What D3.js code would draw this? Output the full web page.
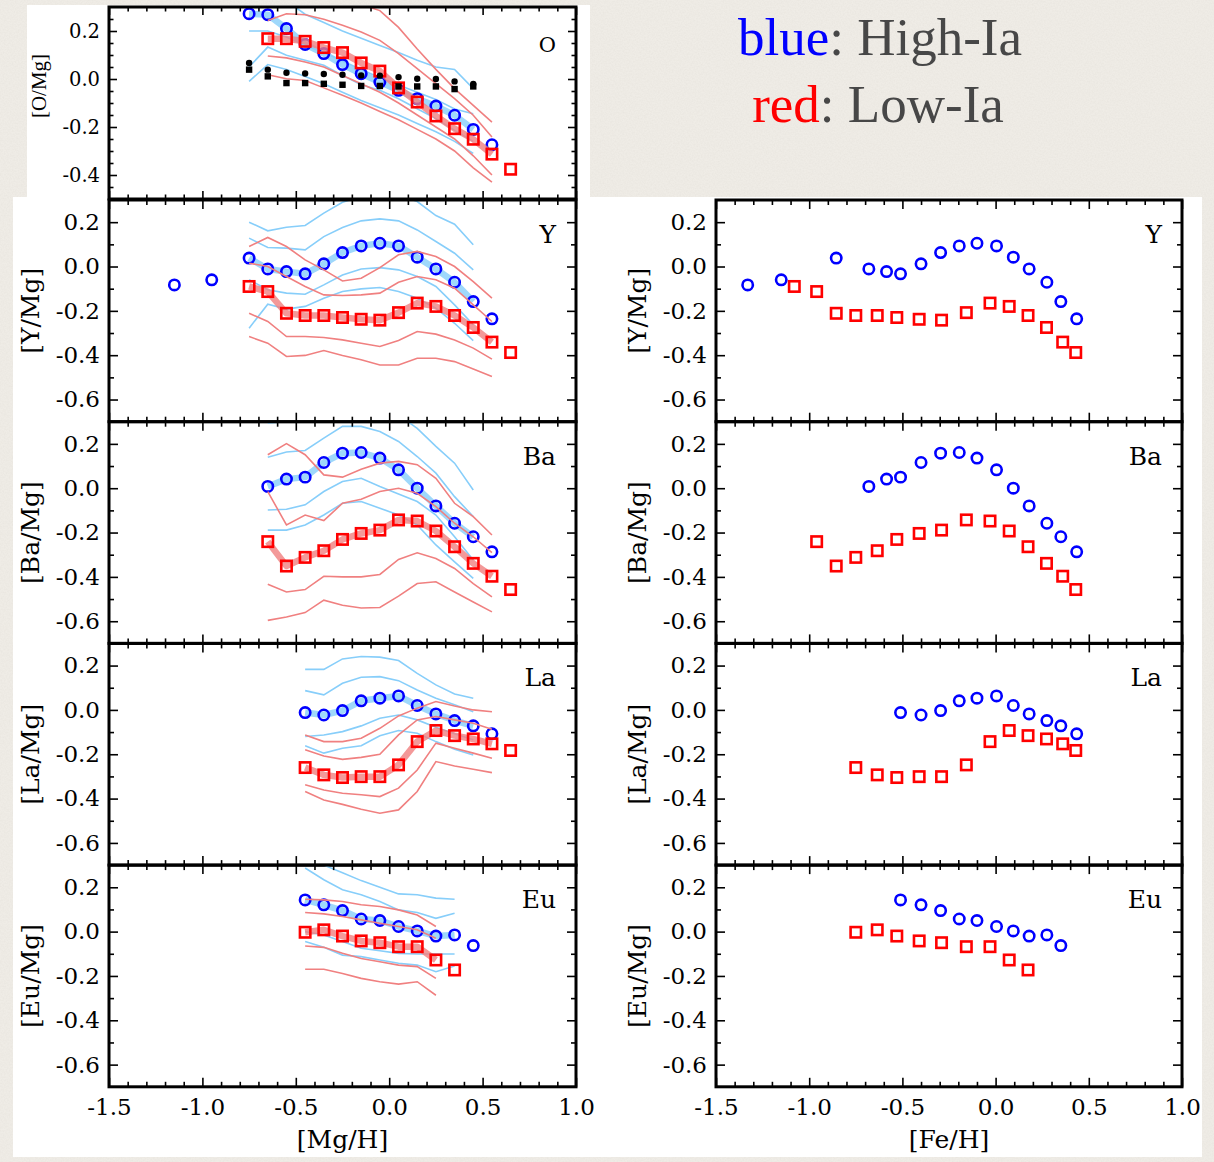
<!DOCTYPE html>
<html>
<head>
<meta charset="utf-8">
<script src="https://cdn.jsdelivr.net/npm/d3@7"></script>
<style>
  html, body { margin: 0; padding: 0; background: #efece6; }
  svg { display: block; }
</style>
</head>
<body>
<svg id="fig" width="1214" height="1162"></svg>
<script>
// ---------------------------------------------------------------
// Binned medians (markers) and percentile tracks (thin lines) of
// [X/Mg] for the High-Ia (blue) and Low-Ia (red) populations.
// Every series is indexed by the [Mg/H] bins below; null = no data.
// ---------------------------------------------------------------
const _ = null;
const mgBins = [-1.15, -0.95, -0.75, -0.65, -0.55, -0.45, -0.35, -0.25, -0.15, -0.05, 0.05, 0.15, 0.25, 0.35, 0.45, 0.55, 0.65];
// median [Fe/H] of each [Mg/H] bin (x positions in the right column)
const feHigh = [-1.33, -1.15, -0.855, -0.68, -0.585, -0.51, -0.40, -0.295, -0.195, -0.10, 0.005, 0.095, 0.18, 0.275, 0.35, 0.435, _];
const feLow  = [_, _, -1.08, -0.96, -0.855, -0.75, -0.635, -0.53, -0.41, -0.29, -0.157, -0.03, 0.073, 0.174, 0.273, 0.36, 0.43];

// ---- O ----
const oHighMed = [_, _, 0.272, 0.268, 0.210, 0.144, 0.106, 0.060, 0.022, -0.013, -0.047, -0.082, -0.113, -0.151, -0.210, -0.274, _];
const oLowMed  = [_, _, _, 0.168, 0.168, 0.157, 0.131, 0.110, 0.067, 0.033, -0.037, -0.096, -0.154, -0.207, -0.251, -0.313, -0.376];
const oDotsA   = [_, _, 0.067, 0.039, 0.026, 0.023, 0.021, 0.018, 0.015, 0.014, 0.008, 0.001, 0.000, -0.010, -0.021, _, _];
const oDotsB   = [_, _, 0.039, 0.011, -0.017, -0.017, -0.020, -0.024, -0.029, -0.029, -0.031, -0.031, -0.031, -0.042, -0.031, _, _];
const oHighP1 = [_, _, 0.40, 0.37, 0.325, 0.27, 0.235, 0.20, 0.17, 0.14, 0.11, 0.078, 0.05, 0.04, -0.04, _, _];
const oHighP2 = [_, _, 0.20, 0.20, 0.175, 0.14, 0.11, 0.075, 0.04, 0.005, -0.025, -0.055, -0.085, -0.125, -0.145, _, _];
const oHighP3 = [_, _, 0.05, 0.133, 0.099, 0.078, 0.057, 0.015, -0.024, -0.047, -0.082, -0.124, -0.165, -0.214, -0.26, _, _];
const oHighP4 = [_, _, -0.01, 0.06, 0.04, 0.01, -0.02, -0.055, -0.09, -0.12, -0.15, -0.185, -0.22, -0.26, -0.31, _, _];
const oLowP1 = [_, _, _, 0.45, 0.42, 0.40, 0.37, 0.34, 0.31, 0.285, 0.215, 0.125, 0.04, -0.04, -0.11, -0.18, _];
const oLowP2 = [_, _, _, 0.244, 0.272, 0.268, 0.249, 0.224, 0.196, 0.161, 0.106, 0.043, -0.019, -0.082, -0.151, -0.242, _];
const oLowP3 = [_, _, _, 0.096, 0.088, 0.071, 0.050, 0.015, -0.020, -0.055, -0.10, -0.15, -0.20, -0.25, -0.32, -0.40, _];
const oLowP4 = [_, _, _, 0.018, 0.001, -0.006, -0.037, -0.068, -0.10, -0.135, -0.17, -0.21, -0.25, -0.30, -0.37, -0.43, _];

// ---- Y ----
const yHighMed = [-0.083, -0.060, 0.038, -0.011, -0.023, -0.033, 0.012, 0.063, 0.093, 0.105, 0.093, 0.042, -0.011, -0.071, -0.158, -0.236, _];
const yLowMed  = [_, _, -0.090, -0.113, -0.211, -0.221, -0.221, -0.230, -0.238, -0.242, -0.208, -0.165, -0.180, -0.221, -0.275, -0.341, -0.388];
const yHighP1 = [_, _, 0.200, 0.161, 0.177, 0.185, 0.241, 0.290, 0.316, 0.330, 0.323, 0.293, 0.230, 0.191, 0.098, _, _];
const yHighP2 = [_, _, 0.128, 0.086, 0.083, 0.075, 0.135, 0.176, 0.206, 0.215, 0.206, 0.165, 0.113, 0.060, -0.015, _, _];
const yHighP3 = [_, _, -0.060, -0.105, -0.120, -0.125, -0.083, -0.038, -0.011, -0.005, -0.015, -0.045, -0.090, -0.173, -0.263, _, _];
const yHighP4 = [_, _, -0.278, -0.170, -0.192, -0.180, -0.143, -0.113, -0.101, -0.095, -0.113, -0.143, -0.188, -0.256, -0.334, _, _];
const yLowP1 = [_, _, 0.090, 0.131, 0.090, 0.030, -0.015, -0.065, -0.053, -0.005, 0.053, 0.068, 0.045, 0.000, -0.068, -0.143, _];
const yLowP2 = [_, _, 0.015, 0.000, -0.045, -0.090, -0.128, -0.131, -0.128, -0.120, -0.071, -0.045, -0.060, -0.098, -0.173, -0.248, _];
const yLowP3 = [_, _, -0.211, -0.248, -0.316, -0.316, -0.320, -0.331, -0.346, -0.361, -0.334, -0.293, -0.305, -0.331, -0.368, -0.418, _];
const yLowP4 = [_, _, -0.316, -0.346, -0.406, -0.401, -0.379, -0.401, -0.421, -0.444, -0.444, -0.414, -0.414, -0.429, -0.462, -0.496, _];

// ---- Ba ----
const baHighMed = [_, _, _, 0.008, 0.041, 0.050, 0.116, 0.158, 0.161, 0.136, 0.083, 0.000, -0.080, -0.158, -0.219, -0.287, _];
const baLowMed  = [_, _, _, -0.241, -0.351, -0.312, -0.282, -0.231, -0.204, -0.189, -0.143, -0.148, -0.193, -0.264, -0.339, -0.397, -0.457];
const baHighP1 = [_, _, _, 0.294, 0.300, 0.320, 0.340, 0.360, 0.370, 0.360, 0.330, 0.270, 0.189, 0.113, -0.008, _, _];
const baHighP2 = [_, _, _, 0.140, 0.163, 0.170, 0.226, 0.279, 0.279, 0.256, 0.211, 0.143, 0.068, -0.038, -0.128, _, _];
const baHighP3 = [_, _, _, -0.098, -0.095, -0.075, -0.015, 0.030, 0.045, 0.008, -0.026, -0.060, -0.121, -0.219, -0.324, _, _];
const baHighP4 = [_, _, _, -0.189, -0.189, -0.166, -0.121, -0.068, -0.060, -0.090, -0.121, -0.166, -0.256, -0.332, -0.407, _, _];
const baLowP1 = [_, _, _, 0.151, 0.201, 0.151, 0.060, 0.050, 0.086, 0.113, 0.121, 0.106, 0.045, -0.068, -0.128, -0.211, _];
const baLowP2 = [_, _, _, -0.015, -0.166, -0.121, -0.146, -0.068, -0.050, -0.015, 0.000, -0.023, -0.083, -0.158, -0.219, -0.291, _];
const baLowP3 = [_, _, _, -0.433, -0.468, -0.457, -0.397, -0.400, -0.400, -0.389, -0.321, -0.291, -0.317, -0.362, -0.430, -0.490, _];
const baLowP4 = [_, _, _, -0.596, -0.581, -0.561, -0.505, -0.528, -0.540, -0.538, -0.487, -0.430, -0.422, -0.468, -0.513, -0.558, _];

// ---- La ----
const laHighMed = [_, _, _, _, _, -0.012, -0.023, -0.003, 0.041, 0.053, 0.063, 0.020, -0.018, -0.048, -0.072, -0.108, _];
const laLowMed  = [_, _, _, _, _, -0.260, -0.293, -0.305, -0.301, -0.301, -0.248, -0.143, -0.093, -0.116, -0.131, -0.153, -0.183];
const laHighP1 = [_, _, _, _, _, 0.183, 0.183, 0.230, 0.241, 0.238, 0.223, 0.165, 0.113, 0.072, 0.053, _, _];
const laHighP2 = [_, _, _, _, _, 0.087, 0.068, 0.120, 0.147, 0.150, 0.132, 0.090, 0.053, 0.023, -0.008, _, _];
const laHighP3 = [_, _, _, _, _, -0.120, -0.113, -0.098, -0.072, -0.038, -0.023, -0.045, -0.078, -0.108, -0.135, _, _];
const laHighP4 = [_, _, _, _, _, -0.162, -0.195, -0.173, -0.162, -0.117, -0.093, -0.105, -0.143, -0.177, -0.203, _, _];
const laLowP1 = [_, _, _, _, _, -0.113, -0.143, -0.143, -0.128, -0.083, -0.027, 0.008, 0.038, 0.018, 0.000, -0.008, _];
const laLowP2 = [_, _, _, _, _, -0.180, -0.208, -0.223, -0.214, -0.200, -0.113, -0.045, -0.030, -0.045, -0.060, -0.087, _];
const laLowP3 = [_, _, _, _, _, -0.338, -0.361, -0.376, -0.383, -0.391, -0.353, -0.271, -0.150, -0.173, -0.195, -0.218, _];
const laLowP4 = [_, _, _, _, _, -0.368, -0.406, -0.426, -0.448, -0.466, -0.451, -0.368, -0.233, -0.253, -0.268, -0.283, _];

// ---- Eu ----
const euHighMed = [_, _, _, _, _, 0.143, 0.121, 0.095, 0.057, 0.050, 0.023, 0.003, -0.020, -0.015, -0.063, _, _];
const euLowMed  = [_, _, _, _, _, -0.003, 0.008, -0.020, -0.042, -0.050, -0.068, -0.068, -0.128, -0.173, _, _, _];
const euHighP1 = [_, _, _, _, _, 0.330, 0.300, 0.265, 0.230, 0.200, 0.170, 0.166, 0.151, 0.146, _, _, _];
const euHighP2 = [_, _, _, _, _, 0.287, 0.234, 0.189, 0.166, 0.136, 0.098, 0.086, 0.060, 0.083, _, _, _];
const euHighP3 = [_, _, _, _, _, 0.000, -0.015, -0.045, -0.075, -0.086, -0.098, -0.101, -0.101, -0.101, _, _, _];
const euHighP4 = [_, _, _, _, _, -0.045, -0.071, -0.106, -0.113, -0.128, -0.143, -0.151, -0.181, -0.155, _, _, _];
const euLowP1 = [_, _, _, _, _, 0.146, 0.143, 0.136, 0.121, 0.113, 0.098, 0.075, 0.023, _, _, _, _];
const euLowP2 = [_, _, _, _, _, 0.086, 0.080, 0.068, 0.053, 0.038, 0.023, 0.008, -0.030, _, _, _, _];
const euLowP3 = [_, _, _, _, _, -0.065, -0.071, -0.098, -0.121, -0.136, -0.151, -0.158, -0.211, _, _, _, _];
const euLowP4 = [_, _, _, _, _, -0.170, -0.170, -0.189, -0.211, -0.226, -0.237, -0.226, -0.287, _, _, _, _];

// ---- axes ----
const xTicks = [-1.5, -1.0, -0.5, 0.0, 0.5, 1.0];
const xMinor = [-1.4, -1.3, -1.2, -1.1, -0.9, -0.8, -0.7, -0.6, -0.4, -0.3, -0.2, -0.1, 0.1, 0.2, 0.3, 0.4, 0.6, 0.7, 0.8, 0.9];
const yTicks = [-0.6, -0.4, -0.2, 0.0, 0.2];
const yMinor = [-0.5, -0.3, -0.1, 0.1];
const oTicks = [-0.4, -0.2, 0.0, 0.2];
const oMinor = [-0.45, -0.35, -0.3, -0.25, -0.15, -0.1, -0.05, 0.05, 0.1, 0.15, 0.25];

const elements = ['Y', 'Ba', 'La', 'Eu'];
const highMeds = [yHighMed, baHighMed, laHighMed, euHighMed];
const lowMeds  = [yLowMed, baLowMed, laLowMed, euLowMed];
const highTracks = [
  [yHighP1, yHighP2, yHighP3, yHighP4],
  [baHighP1, baHighP2, baHighP3, baHighP4],
  [laHighP1, laHighP2, laHighP3, laHighP4],
  [euHighP1, euHighP2, euHighP3, euHighP4]
];
const lowTracks = [
  [yLowP1, yLowP2, yLowP3, yLowP4],
  [baLowP1, baLowP2, baLowP3, baLowP4],
  [laLowP1, laLowP2, laLowP3, laLowP4],
  [euLowP1, euLowP2, euLowP3, euLowP4]
];

// ---------------------------------------------------------------
const FONT = '"DejaVu Serif", serif';
const BLUE = '#0000ff', RED = '#ff0000';
const LBLUE = '#87cefa', LRED = '#f08080';

const svg = d3.select('#fig');
const defs = svg.append('defs');

// paper background
const paper = defs.append('filter').attr('id', 'paper')
  .attr('x', 0).attr('y', 0).attr('width', '100%').attr('height', '100%');
paper.append('feTurbulence').attr('type', 'fractalNoise')
  .attr('baseFrequency', 0.65).attr('numOctaves', 3).attr('seed', 7).attr('result', 'n');
paper.append('feColorMatrix').attr('in', 'n').attr('type', 'matrix')
  .attr('values', '0 0 0 0 0.55  0 0 0 0 0.52  0 0 0 0 0.47  0.22 0 0 0 -0.07');
svg.append('rect').attr('width', 1214).attr('height', 1162).attr('fill', '#efece6');
svg.append('rect').attr('width', 1214).attr('height', 1162).attr('filter', 'url(#paper)');

// white sheets behind the panels
svg.append('rect').attr('x', 27).attr('y', 5).attr('width', 563).attr('height', 194).attr('fill', '#fff');
svg.append('rect').attr('x', 13).attr('y', 197).attr('width', 1189).attr('height', 960).attr('fill', '#fff');

let clipN = 0;
const fmt = d => d.toFixed(1);

function addAxis(g, axisGen, transform, major, minor, majorLen, minorLen, labels, fontSize, pad) {
  const gm = g.append('g').attr('transform', transform)
    .call(axisGen().tickValues(minor).tickSize(-minorLen).tickFormat(''));
  const gM = g.append('g').attr('transform', transform)
    .call(axisGen().tickValues(major).tickSize(-majorLen).tickPadding(pad)
      .tickFormat(labels ? fmt : ''));
  [gm, gM].forEach(a => {
    a.select('.domain').remove();
    a.selectAll('line').attr('stroke', '#000').attr('stroke-width', 1.6);
    a.selectAll('text').attr('font-family', FONT).attr('font-size', fontSize).attr('fill', '#000');
  });
}

function makePanel(o) {
  const x = d3.scaleLinear().domain([-1.5, 1.0]).range([o.x0, o.x1]);
  const y = d3.scaleLinear().domain(o.yDomain).range([o.y1, o.y0]);
  const g = svg.append('g');
  const id = 'clip' + (clipN++);
  defs.append('clipPath').attr('id', id).append('rect')
    .attr('x', o.x0).attr('y', o.y0).attr('width', o.x1 - o.x0).attr('height', o.y1 - o.y0);
  const plot = g.append('g').attr('clip-path', `url(#${id})`);
  const axes = g.append('g');
  addAxis(axes, () => d3.axisBottom(x), `translate(0,${o.y1})`, xTicks, xMinor, o.majorLen, o.minorLen, o.xLabels, o.fontSize, 12);
  addAxis(axes, () => d3.axisTop(x), `translate(0,${o.y0})`, xTicks, xMinor, o.majorLen, o.minorLen, false, o.fontSize, 0);
  addAxis(axes, () => d3.axisLeft(y), `translate(${o.x0},0)`, o.yTicks, o.yMinor, o.majorLen, o.minorLen, true, o.fontSize, 9);
  addAxis(axes, () => d3.axisRight(y), `translate(${o.x1},0)`, o.yTicks, o.yMinor, o.majorLen, o.minorLen, false, o.fontSize, 0);
  g.append('rect').attr('x', o.x0).attr('y', o.y0).attr('width', o.x1 - o.x0).attr('height', o.y1 - o.y0)
    .attr('fill', 'none').attr('stroke', '#000').attr('stroke-width', 3);
  // element tag
  g.append('text').attr('x', o.x1 - 20).attr('y', o.y0 + o.tagDy).attr('text-anchor', 'end')
    .attr('font-family', FONT).attr('font-size', o.tagSize).text(o.tag);
  // y label
  const cy = o.labelY != null ? o.labelY : (o.y0 + o.y1) / 2;
  g.append('text').attr('transform', `translate(${o.labelX},${cy}) rotate(-90)`)
    .attr('text-anchor', 'middle').attr('dominant-baseline', 'central')
    .attr('font-family', o.labelFont || FONT).attr('font-size', o.labelSize).text(o.ylabel);
  return { x, y, plot };
}

function pts(xs, vals) {
  return mgBins.map((_, i) => [xs[i], vals[i]]).filter(d => d[0] != null && d[1] != null);
}
// thick median line spans the bins covered by the percentile tracks
function medianTrack(xs, med, track) {
  return mgBins.map((_, i) => [xs[i], (track[i] != null) ? med[i] : null]).filter(d => d[0] != null && d[1] != null);
}

function drawSeries(p, xs, med, tracks, col, light, marker) {
  const line = d3.line().x(d => p.x(d[0])).y(d => p.y(d[1]));
  if (tracks) {
    tracks.forEach(t => {
      p.plot.append('path').attr('d', line(pts(xs, t)))
        .attr('fill', 'none').attr('stroke', light).attr('stroke-width', 1.6);
    });
    p.plot.append('path').attr('d', line(medianTrack(xs, med, tracks[0])))
      .attr('fill', 'none').attr('stroke', light).attr('stroke-width', 6.5)
      .attr('stroke-opacity', 0.8).attr('stroke-linejoin', 'round');
  }
  const data = pts(xs, med);
  if (marker === 'circle') {
    p.plot.selectAll(null).data(data).enter().append('circle')
      .attr('cx', d => p.x(d[0])).attr('cy', d => p.y(d[1])).attr('r', 5.2)
      .attr('fill', 'none').attr('stroke', col).attr('stroke-width', 2.6);
  } else {
    const s = 10.4;
    p.plot.selectAll(null).data(data).enter().append('rect')
      .attr('x', d => p.x(d[0]) - s / 2).attr('y', d => p.y(d[1]) - s / 2)
      .attr('width', s).attr('height', s)
      .attr('fill', 'none').attr('stroke', col).attr('stroke-width', 2.6);
  }
}

// ---------------- [O/Mg] panel ----------------
const pO = makePanel({
  x0: 109, x1: 576, y0: 7, y1: 199, yDomain: [-0.5, 0.3], yTicks: oTicks, yMinor: oMinor,
  majorLen: 8, minorLen: 4.5, xLabels: false, fontSize: 19.5,
  tag: 'O', tagDy: 45, tagSize: 21, ylabel: '[O/Mg]', labelX: 39, labelY: 86, labelSize: 21,
  labelFont: '"Liberation Serif", serif'
});
drawSeries(pO, mgBins, oHighMed, [oHighP1, oHighP2, oHighP3, oHighP4], BLUE, LBLUE, 'circle');
drawSeries(pO, mgBins, oLowMed, [oLowP1, oLowP2, oLowP3, oLowP4], RED, LRED, 'square');
pO.plot.selectAll(null).data(pts(mgBins, oDotsA)).enter().append('circle')
  .attr('cx', d => pO.x(d[0])).attr('cy', d => pO.y(d[1])).attr('r', 3.2).attr('fill', '#000');
pO.plot.selectAll(null).data(pts(mgBins, oDotsB)).enter().append('rect')
  .attr('x', d => pO.x(d[0]) - 3.2).attr('y', d => pO.y(d[1]) - 3.2)
  .attr('width', 6.4).attr('height', 6.4).attr('fill', '#000');

// ---------------- main grid ----------------
const rowTop = [200, 421.7, 643.4, 865.1];
const rowH = 221.7;
const cols = [
  { x0: 109, x1: 576, xs: [mgBins, mgBins], tracks: true, labelX: 30, title: '[Mg/H]' },
  { x0: 716, x1: 1182, xs: [feHigh, feLow], tracks: false, labelX: 637, title: '[Fe/H]' }
];
cols.forEach(c => {
  elements.forEach((el, r) => {
    const p = makePanel({
      x0: c.x0, x1: c.x1, y0: rowTop[r], y1: rowTop[r] + rowH, yDomain: [-0.7, 0.3],
      yTicks: yTicks, yMinor: yMinor, majorLen: 9, minorLen: 5, xLabels: r === 3, fontSize: 23,
      tag: el, tagDy: 43, tagSize: 25, ylabel: `[${el}/Mg]`, labelX: c.labelX, labelSize: 25
    });
    drawSeries(p, c.xs[0], highMeds[r], c.tracks ? highTracks[r] : null, BLUE, LBLUE, 'circle');
    drawSeries(p, c.xs[1], lowMeds[r], c.tracks ? lowTracks[r] : null, RED, LRED, 'square');
  });
  svg.append('text').attr('x', (c.x0 + c.x1) / 2).attr('y', 1148).attr('text-anchor', 'middle')
    .attr('font-family', FONT).attr('font-size', 25).text(c.title);
});

// ---------------- key ----------------
const key = svg.append('g').attr('font-family', '"Liberation Serif", serif').attr('font-size', 53)
  .attr('text-anchor', 'middle');
const k1 = key.append('text').attr('x', 880).attr('y', 55);
k1.append('tspan').attr('fill', BLUE).text('blue');
k1.append('tspan').attr('fill', '#474747').text(': High-Ia');
const k2 = key.append('text').attr('x', 878).attr('y', 122);
k2.append('tspan').attr('fill', RED).text('red');
k2.append('tspan').attr('fill', '#474747').text(': Low-Ia');
</script>
</body>
</html>
